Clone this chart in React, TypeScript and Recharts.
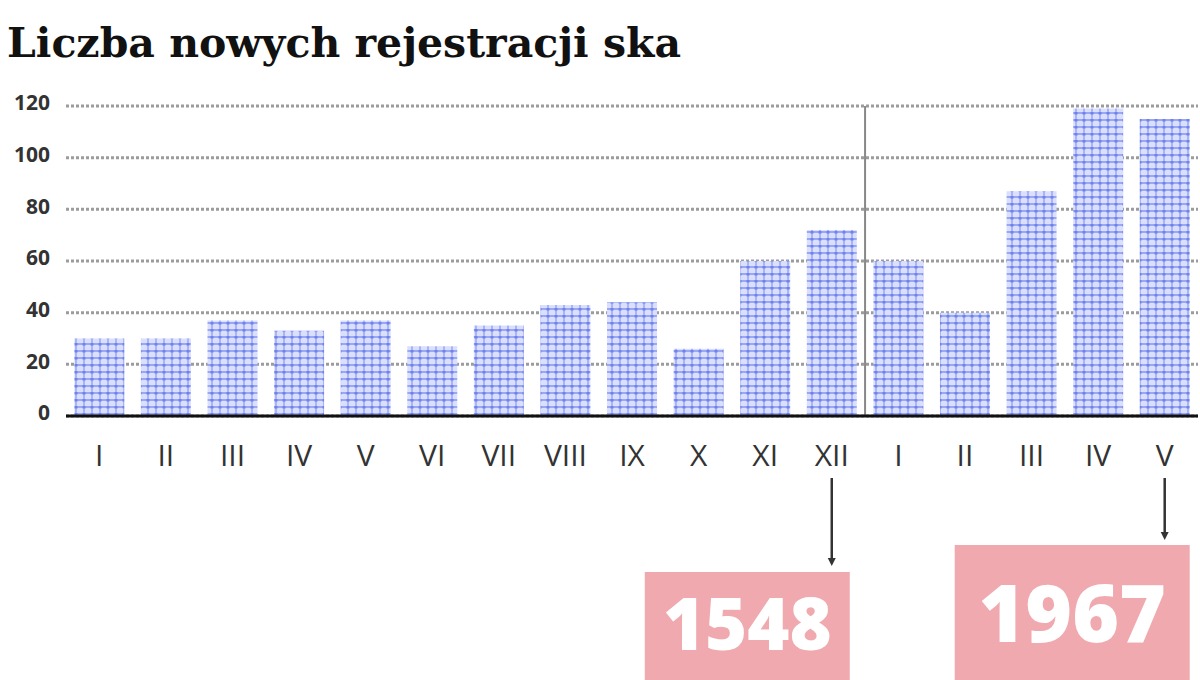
import React from 'react';
import { BarChart, Bar, XAxis, YAxis, CartesianGrid, ReferenceLine } from 'recharts';

const categories = ['I', 'II', 'III', 'IV', 'V', 'VI', 'VII', 'VIII', 'IX', 'X', 'XI', 'XII', 'I', 'II', 'III', 'IV', 'V'];
const values = [30, 30, 37, 33, 37, 27, 35, 43, 44, 26, 60, 72, 60, 40, 87, 119, 115];
const yTicks = [0, 20, 40, 60, 80, 100, 120];
const annotationIndex = [11, 16];
const annotationLabels = ['1548', '1967'];
const yearBreakIndex = 12;

const data = categories.map((c, i) => ({ id: `m${i}`, label: c, value: values[i] }));

const annoStyle = [
  { lineTop: 54, lineBottom: 142, boxTop: 148, boxLeft: -187, boxRight: 18, fontSize: 72, textY: 226 },
  { lineTop: 54, lineBottom: 116, boxTop: 121, boxLeft: -210, boxRight: 25, fontSize: 80, textY: 218 },
];

const XTick = (props: any) => {
  const { x, y, payload } = props;
  const idx = data.findIndex((d) => d.id === payload.value);
  const label = idx >= 0 ? data[idx].label : '';
  const a = annotationIndex.indexOf(idx);
  return (
    <g>
      <text x={x} y={y + 42} textAnchor="middle" fontFamily="'Open Sans', sans-serif" fontSize={30} fill="#333">
        {label}
      </text>
      {a >= 0 && (
        <g>
          <line x1={x} x2={x} y1={y + annoStyle[a].lineTop} y2={y + annoStyle[a].lineBottom - 6} stroke="#333" strokeWidth={2.5} />
          <path d={`M${x - 4},${y + annoStyle[a].lineBottom - 8} L${x + 4},${y + annoStyle[a].lineBottom - 8} L${x},${y + annoStyle[a].lineBottom} Z`} fill="#333" />
          <rect
            x={x + annoStyle[a].boxLeft}
            y={y + annoStyle[a].boxTop}
            width={annoStyle[a].boxRight - annoStyle[a].boxLeft}
            height={200}
            fill="#f0a9ae"
          />
          <text
            x={x + (annoStyle[a].boxLeft + annoStyle[a].boxRight) / 2}
            y={y + annoStyle[a].textY}
            textAnchor="middle"
            fontFamily="'Open Sans', sans-serif"
            fontWeight={800}
            fontSize={annoStyle[a].fontSize}
            fill="#ffffff"
          >
            {annotationLabels[a]}
          </text>
        </g>
      )}
    </g>
  );
};

export default function App() {
  return (
    <div style={{ position: 'absolute', left: 0, top: 0, width: 1200, height: 680, background: '#fff', overflow: 'hidden' }}>
      <div
        style={{
          position: 'absolute',
          left: 7,
          top: 18,
          fontFamily: "'DejaVu Serif', serif",
          fontWeight: 700,
          fontSize: 41,
          lineHeight: '50px',
          color: '#111',
          whiteSpace: 'nowrap',
        }}
      >
        Liczba nowych rejestracji ska
      </div>
      <BarChart
        width={1200}
        height={680}
        data={data}
        margin={{ top: 106, right: 2, left: 6, bottom: 0 }}
        barCategoryGap="12.5%"
      >
        <defs>
          <pattern id="dotgrid" width="8" height="7" patternUnits="userSpaceOnUse">
            <rect x="0" y="0" width="8" height="7" fill="#d9dffc" />
            <rect x="0" y="0" width="8" height="2" fill="#9aa7f3" />
            <rect x="3" y="0" width="2" height="7" fill="#a9b4f5" />
            <rect x="2.5" y="0" width="3" height="2.5" fill="#6f81ec" />
          </pattern>
        </defs>
        <CartesianGrid vertical={false} stroke="#9c9c9c" strokeWidth={3} strokeDasharray="3 2" />
        <YAxis
          domain={[0, 120]}
          ticks={yTicks}
          width={60}
          axisLine={false}
          tickLine={false}
          tickMargin={10}
          tick={{ fontFamily: "'Open Sans', sans-serif", fontWeight: 700, fontSize: 21, fill: '#333', dy: -3 }}
        />
        <XAxis
          dataKey="id"
          height={264}
          interval={0}
          axisLine={{ stroke: '#111', strokeWidth: 3 }}
          tickLine={false}
          tick={<XTick />}
        />
        <ReferenceLine x={data[yearBreakIndex].id} position="start" stroke="#888" strokeWidth={2} />
        <Bar dataKey="value" fill="url(#dotgrid)" isAnimationActive={false} />
      </BarChart>
    </div>
  );
}
